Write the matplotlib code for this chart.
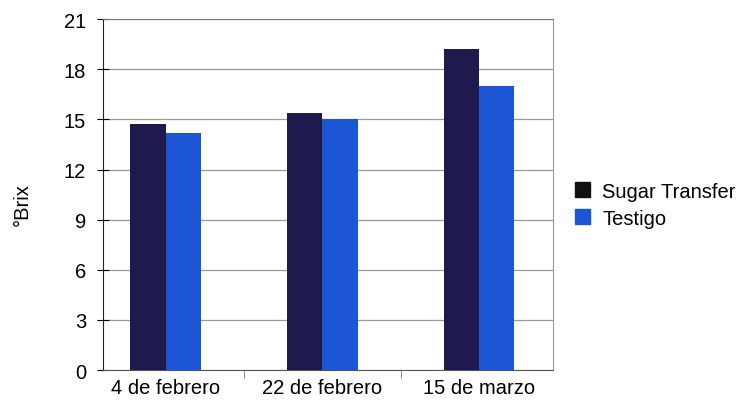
import numpy as np
import matplotlib.pyplot as plt
from matplotlib.patches import Patch

# Data
fechas = ['4 de febrero', '22 de febrero', '15 de marzo']
sugar_transfer = [14.7, 15.4, 19.2]
testigo = [14.2, 15.05, 17.0]
y_ticks = [0, 3, 6, 9, 12, 15, 18, 21]

plt.rcParams['font.family'] = ['Liberation Sans', 'DejaVu Sans']
fs = 14.5

fig = plt.figure(figsize=(7.45, 4.02), dpi=100)
ax = fig.add_axes([0.138, 0.077, 0.604, 0.873])

x = np.arange(len(fechas))
w = 0.225
ax.bar(x - w / 2, sugar_transfer, w, color='#1e1a4d', zorder=3)
ax.bar(x + w / 2, testigo, w, color='#1d56d4', zorder=3)

ax.set_ylim(0, 21)
ax.set_yticks(y_ticks)
ax.set_xlim(-0.4, 2.47)
ax.set_xticks(x)
ax.set_xticklabels(fechas, fontsize=fs)
ax.tick_params(axis='x', length=0, pad=6)
ax.tick_params(axis='y', labelsize=fs, length=8, direction='inout', pad=8)
ax.set_xticks([0.5, 1.5], minor=True)
ax.tick_params(axis='x', which='minor', length=6, color='#777777')

ax.yaxis.grid(True, color='#9a9a9a', linewidth=0.9, zorder=0)
ax.set_axisbelow(True)

ax.spines['left'].set_color('#222222')
ax.spines['bottom'].set_color('#555555')
ax.spines['top'].set_color('#777777')
ax.spines['right'].set_color('#999999')

ax.set_ylabel('°Brix', fontsize=fs)
ax.yaxis.set_label_coords(-0.158, 0.473)

handles = [Patch(color='#111111', label='Sugar Transfer'),
           Patch(color='#1d56d4', label='Testigo')]
fig.legend(handles=handles, loc='center left', bbox_to_anchor=(0.772, 0.488),
           frameon=False, fontsize=fs, handlelength=0.75, handleheight=0.75,
           handletextpad=0.6, labelspacing=0.4, borderaxespad=0, borderpad=0)

plt.savefig('out.png', dpi=100)
